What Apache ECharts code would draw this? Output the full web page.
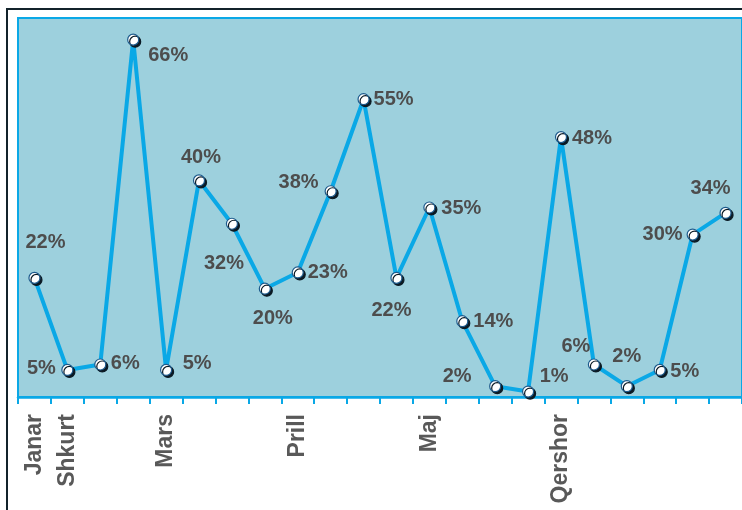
<!DOCTYPE html>
<html><head><meta charset="utf-8">
<script src="https://cdn.jsdelivr.net/npm/echarts@6/dist/echarts.min.js"></script>
<style>html,body{margin:0;padding:0;background:#fff}#c{width:742px;height:510px}</style>
</head><body><div id="c"></div>
<script>
// category tick labels (one per data point, blank where no label is shown)
const categories = ['Janar','Shkurt','','','Mars','','','','Prill','','','','Maj','','','','Qershor','','','','',''];
// series values in percent
const values = [22,5,6,66,5,40,32,20,23,38,55,22,35,14,2,1,48,6,2,5,30,34];
// label offsets relative to each point (placement only)
const labelOffsets = [[11,-35],[-26,-1],[25,-1],[35,16],[31,-6],[2,-23],[-8,40],[8,30],[30,0],[-32,-9],[30,0],[-5,33],[32,1],[31,0],[-38,-10],[26,-15],[31,1],[-18,-18],[0,-30],[25,2],[-30,0],[-15,-24]];

const chart = echarts.init(document.getElementById('c'), null, {renderer:'canvas'});
chart.setOption({
  animation:false,
  backgroundColor:'#fff',
  graphic:[{type:'rect',shape:{x:7,y:9,width:800,height:600},style:{fill:'none',stroke:'#13232b',lineWidth:2},z:100}],
  grid:{left:18,top:18,right:-2,bottom:113,show:true,backgroundColor:'#9dd0dd',borderColor:'#0aa8e6',borderWidth:2,containLabel:false},
  xAxis:{type:'category',data:categories,boundaryGap:true,
    axisLine:{lineStyle:{color:'#0aa8e6',width:2.5}},
    axisTick:{show:true,interval:0,length:7,lineStyle:{color:'#0aa8e6',width:2}},
    axisLabel:{interval:0,rotate:90,margin:17,fontFamily:'Liberation Sans, Arial',fontWeight:'bold',fontSize:23,color:'#595959'}},
  yAxis:{type:'value',min:0,max:70,show:false,splitLine:{show:false}},
  series:[{type:'line',
    data:values.map((v,i)=>({value:v,label:{offset:labelOffsets[i]}})),
    symbol:'circle',symbolSize:11,
    lineStyle:{color:'#0aa8e6',width:4},
    itemStyle:{color:'#ffffff',borderColor:'#1d5a8c',borderWidth:1.2,shadowColor:'#0b1a24',shadowOffsetX:2,shadowOffsetY:2,shadowBlur:0},
    label:{show:true,position:'inside',formatter:p=>p.value+'%',fontFamily:'Liberation Sans, Arial',fontWeight:'bold',fontSize:20,color:'#4d4d4d'}
  }]
});
</script></body></html>
